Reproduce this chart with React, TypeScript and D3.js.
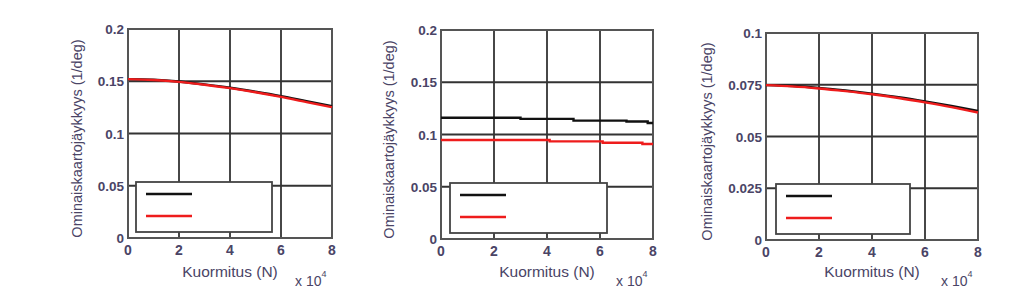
import React, { useEffect, useRef } from "react";
import * as d3 from "d3";

// Load in units of 10^4 N
const loadX = [0, 1, 2, 3, 4, 5, 6, 7, 8];

// Panel 1
const p1Black = [0.152, 0.1515, 0.1498, 0.147, 0.1438, 0.14, 0.1358, 0.131, 0.1262];
const p1Red = [0.152, 0.1512, 0.1494, 0.1467, 0.1434, 0.1395, 0.135, 0.13, 0.1252];
const p1Ticks = [0, 0.05, 0.1, 0.15, 0.2];
const p1TickLabels = ["0", "0.05", "0.1", "0.15", "0.2"];

// Panel 2 (stepped)
const p2BlackX = [0, 3, 5, 7, 7.8, 8];
const p2Black = [0.116, 0.115, 0.1133, 0.1124, 0.111, 0.111];
const p2RedX = [0, 4.1, 6.1, 7.6, 8];
const p2Red = [0.0947, 0.0934, 0.0921, 0.0909, 0.0909];
const p2Ticks = [0, 0.05, 0.1, 0.15, 0.2];
const p2TickLabels = ["0", "0.05", "0.1", "0.15", "0.2"];

// Panel 3
const p3Black = [0.0748, 0.0744, 0.0735, 0.0722, 0.0707, 0.069, 0.067, 0.0648, 0.0624];
const p3Red = [0.0748, 0.0742, 0.0732, 0.0719, 0.0704, 0.0686, 0.0665, 0.0642, 0.0616];
const p3Ticks = [0, 0.025, 0.05, 0.075, 0.1];
const p3TickLabels = ["0", "0.025", "0.05", "0.075", "0.1"];

const xTicks = [0, 2, 4, 6, 8];
const xTickLabels = ["0", "2", "4", "6", "8"];

const yLabel = "Ominaiskaartojäykkyys (1/deg)";
const xLabel = "Kuormitus (N)";

const panels = [
  {
    box: { l: 128, r: 332, t: 29, b: 238 },
    yMax: 0.2, yTicks: p1Ticks, yTickLabels: p1TickLabels,
    black: { x: loadX, y: p1Black, step: false },
    red: { x: loadX, y: p1Red, step: false },
    yLabelX: 77, leg: { dx: 8, w: 136 },
  },
  {
    box: { l: 441, r: 653, t: 30, b: 239 },
    yMax: 0.2, yTicks: p2Ticks, yTickLabels: p2TickLabels,
    black: { x: p2BlackX, y: p2Black, step: true },
    red: { x: p2RedX, y: p2Red, step: true },
    yLabelX: 389, leg: { dx: 9, w: 157 },
  },
  {
    box: { l: 766, r: 978, t: 33, b: 240 },
    yMax: 0.1, yTicks: p3Ticks, yTickLabels: p3TickLabels,
    black: { x: loadX, y: p3Black, step: false },
    red: { x: loadX, y: p3Red, step: false },
    yLabelX: 707, leg: { dx: 10, w: 134 },
  },
];

const TEXT = "#4a4466";
const GRID = "#333";
const FONT = "Liberation Sans, Arial, sans-serif";

export default function App() {
  const ref = useRef<SVGSVGElement | null>(null);
  useEffect(() => {
    const svg = d3.select(ref.current);
    svg.selectAll("*").remove();
    svg.append("rect").attr("width", 1023).attr("height", 305).attr("fill", "white");

    panels.forEach((p) => {
      const { l, r, t, b } = p.box;
      const x = d3.scaleLinear().domain([0, 8]).range([l, r]);
      const y = d3.scaleLinear().domain([0, p.yMax]).range([b, t]);
      const g = svg.append("g");

      // grid
      xTicks.forEach((v) => {
        g.append("line").attr("x1", x(v)).attr("x2", x(v)).attr("y1", t).attr("y2", b)
          .attr("stroke", GRID).attr("stroke-width", 1.8);
      });
      p.yTicks.forEach((v) => {
        g.append("line").attr("x1", l).attr("x2", r).attr("y1", y(v)).attr("y2", y(v))
          .attr("stroke", GRID).attr("stroke-width", 1.8);
      });
      g.append("rect").attr("x", l).attr("y", t).attr("width", r - l).attr("height", b - t)
        .attr("fill", "none").attr("stroke", "#555").attr("stroke-width", 2);

      // tick labels
      xTicks.forEach((v, i) => {
        g.append("text").attr("x", x(v)).attr("y", b + 17).attr("text-anchor", "middle")
          .attr("font-family", FONT).attr("font-size", 14).attr("font-weight", "bold")
          .attr("fill", TEXT).text(xTickLabels[i]);
      });
      p.yTicks.forEach((v, i) => {
        g.append("text").attr("x", l - 4).attr("y", y(v) + 5).attr("text-anchor", "end")
          .attr("font-family", FONT).attr("font-size", 13.5).attr("font-weight", "bold")
          .attr("fill", TEXT).text(p.yTickLabels[i]);
      });

      // data lines
      const draw = (s: { x: number[]; y: number[]; step: boolean }, color: string) => {
        const pts = s.x.map((xv, i) => [xv, s.y[i]] as [number, number]);
        const line = d3.line<[number, number]>()
          .x((d) => x(d[0])).y((d) => y(d[1]))
          .curve(s.step ? d3.curveStepAfter : d3.curveMonotoneX);
        g.append("path").attr("d", line(pts)).attr("fill", "none")
          .attr("stroke", color).attr("stroke-width", 2.4);
      };
      draw(p.black, "#111");
      draw(p.red, "#ee1c1c");

      // legend
      const lx = l + p.leg.dx;
      const ly = b - 56;
      g.append("rect").attr("x", lx).attr("y", ly).attr("width", p.leg.w).attr("height", 50)
        .attr("fill", "white").attr("stroke", "#444").attr("stroke-width", 1.8);
      g.append("line").attr("x1", lx + 10).attr("x2", lx + 56).attr("y1", ly + 12).attr("y2", ly + 12)
        .attr("stroke", "#111").attr("stroke-width", 2.4);
      g.append("line").attr("x1", lx + 10).attr("x2", lx + 56).attr("y1", ly + 34).attr("y2", ly + 34)
        .attr("stroke", "#ee1c1c").attr("stroke-width", 2.4);

      // axis labels
      g.append("text").attr("x", (l + r) / 2).attr("y", 277).attr("text-anchor", "middle")
        .attr("font-family", FONT).attr("font-size", 15.5).attr("fill", TEXT).text(xLabel);
      const cy = (t + b) / 2 + 5;
      g.append("text")
        .attr("transform", `translate(${p.yLabelX + 5},${cy}) rotate(-90)`)
        .attr("text-anchor", "middle")
        .attr("font-family", FONT).attr("font-size", 14.5).attr("fill", TEXT).text(yLabel);

      const ex = g.append("text").attr("x", r - 37).attr("y", 286)
        .attr("font-family", FONT).attr("font-size", 14).attr("fill", TEXT);
      ex.append("tspan").text("x 10");
      ex.append("tspan").attr("dy", -9).attr("font-size", 9).text("4");
    });
  }, []);

  return (
    <svg ref={ref} width={1023} height={305}
      style={{ position: "absolute", left: 0, top: 0, display: "block" }} />
  );
}
